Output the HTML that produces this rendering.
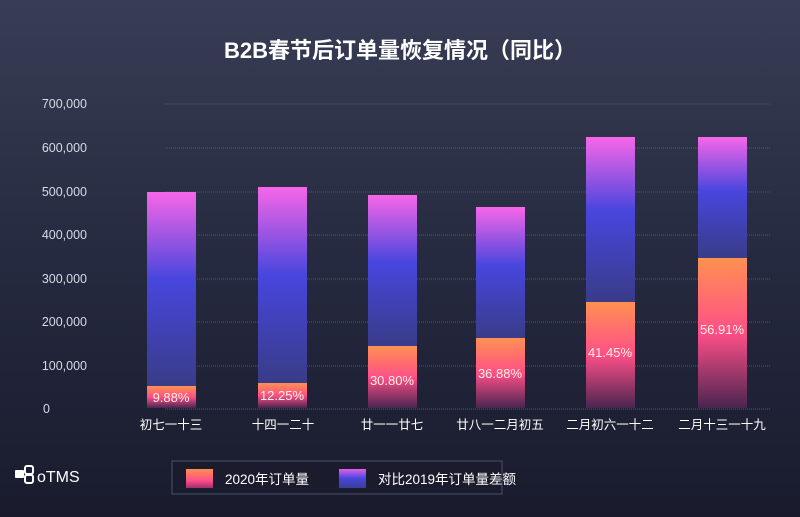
<!DOCTYPE html>
<html><head><meta charset="utf-8"><style>
html,body{margin:0;padding:0;width:800px;height:517px;overflow:hidden;background:#1c1e30}
svg{display:block}
text{font-family:"Liberation Sans","Noto Sans CJK SC",sans-serif}
</style></head><body>
<svg width="800" height="517" viewBox="0 0 800 517" xmlns="http://www.w3.org/2000/svg">
<defs>
<linearGradient id="bg" x1="0" y1="0" x2="0" y2="1">
<stop offset="0" stop-color="#383d55"/><stop offset="0.5" stop-color="#262a40"/><stop offset="1" stop-color="#191b2d"/></linearGradient>
<linearGradient id="pu" x1="0" y1="0" x2="0" y2="1">
<stop offset="0" stop-color="#f766e8"/><stop offset="0.45" stop-color="#4746de"/><stop offset="1" stop-color="#393c88"/></linearGradient>
<linearGradient id="or" x1="0" y1="0" x2="0" y2="1">
<stop offset="0" stop-color="#ff9150"/><stop offset="0.5" stop-color="#ff4f88"/><stop offset="1" stop-color="#4a2550"/></linearGradient>
<linearGradient id="lo" x1="0" y1="0" x2="0" y2="1"><stop offset="0" stop-color="#ff9150"/><stop offset="0.6" stop-color="#ff4f88"/><stop offset="1" stop-color="#a03070"/></linearGradient>
<linearGradient id="lp" x1="0" y1="0" x2="0" y2="1"><stop offset="0" stop-color="#e060e8"/><stop offset="0.5" stop-color="#4746de"/><stop offset="1" stop-color="#3a3f98"/></linearGradient>
</defs>
<rect width="800" height="517" fill="url(#bg)"/>
<text x="400" y="58" text-anchor="middle" fill="#fff" font-size="22" font-weight="bold">B2B春节后订单量恢复情况（同比）</text>
<g stroke="#4e5474" stroke-width="1" stroke-dasharray="1,1">
<line x1="165" y1="104" x2="770" y2="104"/><line x1="165" y1="148" x2="770" y2="148"/><line x1="165" y1="192" x2="770" y2="192"/><line x1="165" y1="235" x2="770" y2="235"/><line x1="165" y1="279" x2="770" y2="279"/><line x1="165" y1="322" x2="770" y2="322"/><line x1="165" y1="366" x2="770" y2="366"/><line x1="165" y1="409" x2="770" y2="409"/>
</g>
<g fill="#d8dae6" font-size="12.5" text-anchor="end">
<text x="87" y="108">700,000</text><text x="87" y="152">600,000</text><text x="87" y="196">500,000</text><text x="87" y="239">400,000</text><text x="87" y="283">300,000</text><text x="87" y="326">200,000</text><text x="87" y="370">100,000</text><text x="50" y="413">0</text>
</g>
<g>
<rect x="147" y="192" width="49" height="194" fill="url(#pu)"/><rect x="147" y="386" width="49" height="22" fill="url(#or)"/>
<rect x="258" y="187" width="49" height="196" fill="url(#pu)"/><rect x="258" y="383" width="49" height="25" fill="url(#or)"/>
<rect x="368" y="195" width="49" height="151" fill="url(#pu)"/><rect x="368" y="346" width="49" height="62" fill="url(#or)"/>
<rect x="476" y="207" width="49" height="131" fill="url(#pu)"/><rect x="476" y="338" width="49" height="70" fill="url(#or)"/>
<rect x="586" y="137" width="49" height="165" fill="url(#pu)"/><rect x="586" y="302" width="49" height="106" fill="url(#or)"/>
<rect x="698" y="137" width="49" height="121" fill="url(#pu)"/><rect x="698" y="258" width="49" height="150" fill="url(#or)"/>
</g>
<g fill="#fff3e0" font-size="13" text-anchor="middle">
<text x="171" y="402">9.88%</text><text x="282" y="400">12.25%</text><text x="392" y="385">30.80%</text><text x="500" y="378">36.88%</text><text x="610" y="357">41.45%</text><text x="722" y="334">56.91%</text>
</g>
<g fill="#fff" font-size="12.5" text-anchor="middle">
<text x="171" y="429">初七一十三</text><text x="283" y="429">十四一二十</text><text x="392" y="429">廿一一廿七</text><text x="500" y="429">廿八一二月初五</text><text x="610" y="429">二月初六一十二</text><text x="722" y="429">二月十三一十九</text>
</g>
<g fill="#fff">
<rect x="15" y="470" width="9" height="8" rx="1"/><rect x="25" y="466" width="8" height="8" rx="2" fill="none" stroke="#fff" stroke-width="2"/><rect x="25" y="475" width="8" height="8" rx="2" fill="none" stroke="#fff" stroke-width="2"/>
<text x="37" y="482" font-size="16">oTMS</text>
</g>
<rect x="172" y="461" width="330" height="33" fill="#1a1c2e" stroke="#4a5068" stroke-width="1"/>
<rect x="186" y="469" width="27" height="19" fill="url(#lo)"/>
<text x="225" y="484" fill="#fff" font-size="13.5">2020年订单量</text>
<rect x="339" y="469" width="27" height="19" fill="url(#lp)"/>
<text x="378" y="484" fill="#fff" font-size="13.5">对比2019年订单量差额</text>
</svg>
</body></html>
